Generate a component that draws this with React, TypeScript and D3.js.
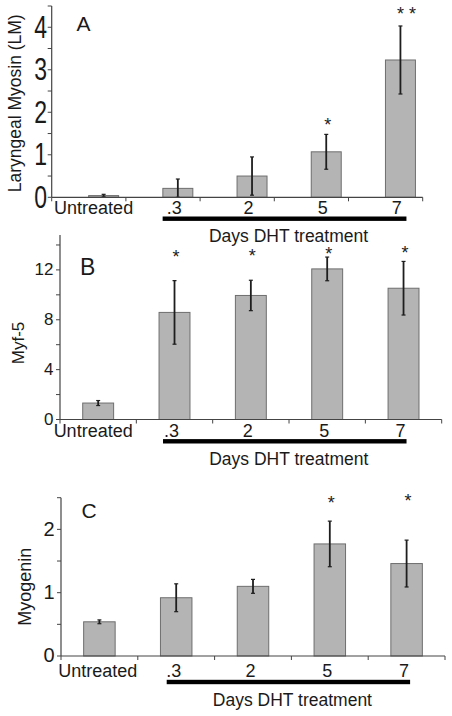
import React from "react";
import * as d3 from "d3";

const categories = ["Untreated", ".3", "2", "5", "7"];

const lmValues = [0.04, 0.21, 0.5, 1.07, 3.23];
const lmErrors = [0.03, 0.22, 0.45, 0.41, 0.8];
const lmStars = ["", "", "", "*", "* *"];
const lmStarLevels = [0, 0, 0, 1.79, 4.41];
const lmTicks = [0, 1, 2, 3, 4];

const myf5Values = [1.32, 8.59, 9.95, 12.08, 10.53];
const myf5Errors = [0.2, 2.55, 1.22, 0.95, 2.15];
const myf5Stars = ["", "*", "*", "*", "*"];
const myf5StarLevels = [0, 13.34, 13.44, 13.6, 13.71];
const myf5Ticks = [0, 4, 8, 12];

const myogeninValues = [0.54, 0.92, 1.1, 1.77, 1.46];
const myogeninErrors = [0.03, 0.22, 0.11, 0.36, 0.37];
const myogeninStars = ["", "", "", "*", "*"];
const myogeninStarLevels = [0, 0, 0, 2.48, 2.51];
const myogeninTicks = [0, 1, 2];

const xTitle = "Days DHT treatment";
const FONT = "'Liberation Sans', Arial, sans-serif";

type Cfg = {
  values: number[];
  errors: number[];
  stars: string[];
  starLevels: number[];
  ticks: number[];
  domainMax: number;
  minorStep: number;
  letter: string;
  yTitle: string;
  x0: number;
  x1: number;
  yBottom: number;
  yTop: number;
  barPos: number;
  barWidthFrac: number;
  tickFont: number;
  tickScaleX: number;
  tickLabelRight: number;
  letterX: number;
  letterY: number;
  letterFont: number;
  yTitleX: number;
  yTitleCY: number;
  yTitleFont: number;
  xLabelBaseline: number;
  labelDx: number;
  untreatedDx: number;
  blackY: number;
  blackStartDx: number;
  blackEndDx: number;
  daysBaseline: number;
};

function Panel({ c }: { c: Cfg }) {
  const band = d3
    .scaleBand<string>()
    .domain(categories)
    .range([c.x0, c.x1])
    .paddingInner(0)
    .paddingOuter(0);
  const bw = band.bandwidth();
  const y = d3.scaleLinear().domain([0, c.domainMax]).range([c.yBottom, c.yTop]);
  const barW = bw * c.barWidthFrac;
  const cx = (cat: string) => (band(cat) as number) + bw * c.barPos;
  const minor = d3.range(c.minorStep, c.domainMax + 1e-6, c.minorStep).filter(
    (v) => !c.ticks.some((t) => Math.abs(t - v) < 1e-6)
  );
  const boundaries = d3.range(categories.length + 1).map((i) => c.x0 + i * bw);
  const blackStart = cx(categories[1]) + c.blackStartDx;
  const blackEnd = cx(categories[categories.length - 1]) + c.blackEndDx;
  const starFont = 18;

  return (
    <g fontFamily={FONT}>
      {/* bars */}
      {categories.map((cat, i) => (
        <rect
          key={"b" + i}
          x={cx(cat) - barW / 2}
          y={y(c.values[i])}
          width={barW}
          height={c.yBottom - y(c.values[i])}
          fill="#b4b4b4"
          stroke="#6e6e6e"
          strokeWidth={1}
        />
      ))}
      {/* error bars */}
      {categories.map((cat, i) => {
        const hi = y(Math.min(c.domainMax, c.values[i] + c.errors[i]));
        const lo = y(Math.max(0, c.values[i] - c.errors[i]));
        const x = cx(cat);
        return (
          <g key={"e" + i} stroke="#1e1e1e" strokeWidth={1.8}>
            <line x1={x} x2={x} y1={hi} y2={lo} />
            <line x1={x - 2} x2={x + 2} y1={hi} y2={hi} strokeWidth={1.2} />
            <line x1={x - 2} x2={x + 2} y1={lo} y2={lo} strokeWidth={1.2} />
          </g>
        );
      })}
      {/* stars */}
      {categories.map((cat, i) =>
        c.stars[i] ? (
          <text
            key={"s" + i}
            x={cx(cat) + (c.stars[i].length > 1 ? 6 : 1.5)}
            y={y(c.starLevels[i]) + 0.57 * starFont}
            fontSize={starFont}
            textAnchor="middle"
            fill="#222"
          >
            {c.stars[i]}
          </text>
        ) : null
      )}
      {/* axes */}
      <line x1={c.x0} x2={c.x0} y1={c.yBottom} y2={c.yTop} stroke="#444" strokeWidth={1.2} />
      <line x1={c.x0} x2={c.x1} y1={c.yBottom} y2={c.yBottom} stroke="#444" strokeWidth={1.2} />
      {[...c.ticks, ...minor].map((t, i) => (
        <line key={"yt" + i} x1={c.x0 - 4} x2={c.x0} y1={y(t)} y2={y(t)} stroke="#444" strokeWidth={1} />
      ))}
      {boundaries.map((bx, i) => (
        <line key={"xt" + i} x1={bx} x2={bx} y1={c.yBottom} y2={c.yBottom + 4} stroke="#444" strokeWidth={1} />
      ))}
      {c.ticks.map((t, i) => (
        <text
          key={"yl" + i}
          transform={`translate(${c.tickLabelRight},${y(t) + 0.36 * c.tickFont - 1}) scale(${c.tickScaleX},1)`}
          fontSize={c.tickFont}
          textAnchor="end"
          fill="#1a1a1a"
        >
          {d3.format("d")(t)}
        </text>
      ))}
      {/* x labels */}
      {categories.map((cat, i) => (
        <text
          key={"xl" + i}
          x={cx(cat) + (i === 0 ? c.untreatedDx : c.labelDx)}
          y={c.xLabelBaseline}
          fontSize={18}
          textAnchor="middle"
          fill="#1a1a1a"
        >
          {cat}
        </text>
      ))}
      {/* treatment bar */}
      <rect x={blackStart} y={c.blackY - 2.2} width={blackEnd - blackStart} height={4.4} fill="#000" />
      <text
        x={(blackStart + blackEnd) / 2 + 4}
        y={c.daysBaseline}
        fontSize={17.5}
        textAnchor="middle"
        fill="#1a1a1a"
      >
        {xTitle}
      </text>
      {/* panel letter */}
      <text x={c.letterX} y={c.letterY} fontSize={c.letterFont} fill="#1a1a1a">
        {c.letter}
      </text>
      {/* y title */}
      <text
        transform={`translate(${c.yTitleX},${c.yTitleCY}) rotate(-90)`}
        fontSize={c.yTitleFont}
        textAnchor="middle"
        fill="#1a1a1a"
      >
        {c.yTitle}
      </text>
    </g>
  );
}

const panelA: Cfg = {
  values: lmValues,
  errors: lmErrors,
  stars: lmStars,
  starLevels: lmStarLevels,
  ticks: lmTicks,
  domainMax: 4.5,
  minorStep: 0.5,
  letter: "A",
  yTitle: "Laryngeal Myosin (LM)",
  x0: 51.7,
  x1: 422.7,
  yBottom: 197.3,
  yTop: 6,
  barPos: 0.7,
  barWidthFrac: 0.404,
  tickFont: 32,
  tickScaleX: 0.72,
  tickLabelRight: 47,
  letterX: 76.5,
  letterY: 30.5,
  letterFont: 21,
  yTitleX: 21,
  yTitleCY: 103.3,
  yTitleFont: 17.5,
  xLabelBaseline: 214,
  labelDx: -3.6,
  untreatedDx: -10,
  blackY: 218.7,
  blackStartDx: -15.2,
  blackEndDx: 6,
  daysBaseline: 242,
};

const panelB: Cfg = {
  values: myf5Values,
  errors: myf5Errors,
  stars: myf5Stars,
  starLevels: myf5StarLevels,
  ticks: myf5Ticks,
  domainMax: 14.8,
  minorStep: 2,
  letter: "B",
  yTitle: "Myf-5",
  x0: 60,
  x1: 441.7,
  yBottom: 419.5,
  yTop: 235,
  barPos: 0.5,
  barWidthFrac: 0.405,
  tickFont: 17,
  tickScaleX: 1,
  tickLabelRight: 53.5,
  letterX: 80,
  letterY: 275,
  letterFont: 23,
  yTitleX: 24,
  yTitleCY: 343,
  yTitleFont: 17,
  xLabelBaseline: 436.5,
  labelDx: -3,
  untreatedDx: -5,
  blackY: 441.3,
  blackStartDx: -11.5,
  blackEndDx: 3,
  daysBaseline: 464.5,
};

const panelC: Cfg = {
  values: myogeninValues,
  errors: myogeninErrors,
  stars: myogeninStars,
  starLevels: myogeninStarLevels,
  ticks: myogeninTicks,
  domainMax: 2.5,
  minorStep: 0.5,
  letter: "C",
  yTitle: "Myogenin",
  x0: 61,
  x1: 445,
  yBottom: 656,
  yTop: 497.7,
  barPos: 0.5,
  barWidthFrac: 0.41,
  tickFont: 20,
  tickScaleX: 1,
  tickLabelRight: 54.5,
  letterX: 81.5,
  letterY: 518,
  letterFont: 21,
  yTitleX: 31,
  yTitleCY: 586.7,
  yTitleFont: 18,
  xLabelBaseline: 677,
  labelDx: -2.5,
  untreatedDx: -1.7,
  blackY: 682,
  blackStartDx: -9.5,
  blackEndDx: 3.5,
  daysBaseline: 705.5,
};

export default function App() {
  return (
    <svg
      width={452}
      height={716}
      viewBox="0 0 452 716"
      style={{ position: "absolute", left: 0, top: 0, background: "#fff" }}
    >
      <rect x={0} y={0} width={452} height={716} fill="#fff" />
      <Panel c={panelA} />
      <Panel c={panelB} />
      <Panel c={panelC} />
    </svg>
  );
}
